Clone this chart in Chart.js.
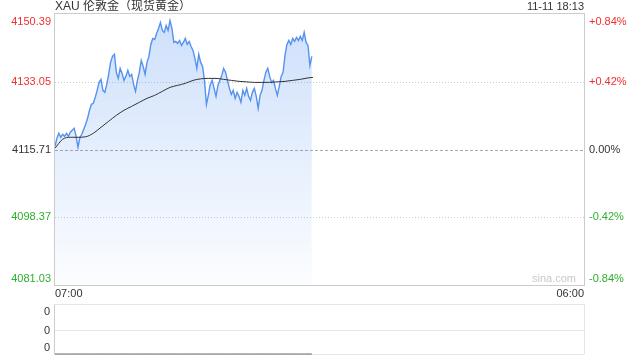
<!DOCTYPE html>
<html>
<head>
<meta charset="utf-8">
<script src="https://cdn.jsdelivr.net/npm/chart.js@4.4.0/dist/chart.umd.min.js"></script>
<style>
    html, body { margin: 0; padding: 0; background: #fff; }
    #wrap { position: relative; width: 640px; height: 360px; }
    #main { position: absolute; left: 0; top: 0; }
    #vol { position: absolute; left: 0; top: 300px; }
</style>
</head>
<body>
<div id="wrap">
    <canvas id="main" width="640" height="300" style="width:640px;height:300px"></canvas>
    <canvas id="vol" width="640" height="60" style="width:640px;height:60px"></canvas>
</div>
<script>
// 5-minute samples from 07:00 onward
const stepMinutes = 5;
const totalMinutes = 1380; // 07:00 -> 06:00 next day
const prices = [
    4116.54, 4118.58, 4119.86, 4118.84, 4119.61, 4119.10, 4119.86, 4119.10, 4120.12, 4120.63,
    4121.14, 4119.10, 4116.28, 4118.84, 4119.61, 4120.88, 4122.16, 4123.69, 4125.74, 4127.27,
    4127.53, 4129.06, 4130.85, 4132.89, 4133.66, 4130.85, 4130.34, 4132.38, 4134.94, 4138.00,
    4139.54, 4140.05, 4135.45, 4133.91, 4136.47, 4135.19, 4133.40, 4134.43, 4135.96, 4134.43,
    4134.94, 4132.38, 4130.59, 4133.40, 4135.45, 4138.51, 4136.98, 4134.94, 4138.00, 4139.54,
    4142.60, 4144.13, 4143.88, 4145.41, 4146.69, 4148.22, 4146.18, 4145.67, 4147.46, 4146.18,
    4148.73, 4146.69, 4143.11, 4143.37, 4142.86, 4143.62, 4142.35, 4143.11, 4144.13, 4142.60,
    4143.37, 4142.09, 4141.07, 4139.02, 4136.47, 4140.05, 4138.00, 4136.98, 4133.40, 4127.27,
    4129.57, 4132.38, 4133.40, 4131.36, 4129.32, 4132.13, 4133.40, 4134.68, 4136.47, 4135.45,
    4133.40, 4131.36, 4129.83, 4130.85, 4128.80, 4130.34, 4129.32, 4127.78, 4130.85, 4129.57,
    4131.36, 4129.32, 4128.29, 4130.34, 4131.36, 4129.32, 4126.25, 4129.57, 4130.85, 4133.40,
    4135.45, 4136.47, 4134.43, 4132.89, 4133.40, 4131.36, 4129.57, 4131.87, 4134.43, 4135.45,
    4139.79, 4142.60, 4143.62, 4142.60, 4144.13, 4143.37, 4144.39, 4143.62, 4144.65, 4143.62,
    4145.67, 4143.11, 4142.35, 4137.23, 4139.54
];
const avgTimes = [
    0, 20, 40, 60, 80, 100, 120, 140, 160, 180, 200, 220, 240, 260, 280, 300, 320,
    340, 360, 380, 400, 420, 440, 460, 480, 500, 520, 540, 560, 580, 600, 620, 640, 660, 673
];
const avgPrices = [
    4116.03, 4118.33, 4118.84, 4118.84, 4118.97, 4119.86, 4121.39, 4122.93, 4124.46, 4125.74,
    4126.76, 4127.78, 4128.80, 4129.57, 4130.59, 4131.61, 4132.13, 4132.64, 4133.40, 4133.79,
    4133.91, 4133.91, 4133.66, 4133.40, 4133.15, 4133.02, 4132.89, 4132.89, 4132.89, 4133.02,
    4133.15, 4133.40, 4133.66, 4134.04, 4134.17
];
const volumes = prices.map(() => 0); // volume panel shows only zeros
const prevClose = 4115.71;
const yTicks = [4150.39, 4133.05, 4115.71, 4098.37, 4081.03];
const pctLabels = ['+0.84%', '+0.42%', '0.00%', '-0.42%', '-0.84%'];
const timeLabels = ['07:00', '06:00'];
const volLabels = ['0', '0', '0'];
const title = 'XAU 伦敦金（现货黄金）';
const stamp = '11-11 18:13';

const FONT = '11px Arial, "Liberation Sans", "Noto Sans CJK SC", sans-serif';
const TITLE_FONT = '12px Arial, "Liberation Sans", "Noto Sans CJK SC", sans-serif';
const RED = '#f03030';
const GREEN = '#2fae2f';
const DARK = '#333';

function tickColor(v) {
    if (v > prevClose) return RED;
    if (v < prevClose) return GREEN;
    return DARK;
}

const framePlugin = {
    id: 'frame',
    beforeDatasetsDraw(chart) {
        const { ctx, chartArea: a, scales: { y } } = chart;
        ctx.save();
        ctx.lineWidth = 1;
        yTicks.forEach((v, i) => {
            if (i === 0 || i === yTicks.length - 1) return;
            const py = Math.round(y.getPixelForValue(v)) + 0.5;
            ctx.strokeStyle = v === prevClose ? '#aaa' : '#ccc';
            ctx.setLineDash(v === prevClose ? [3, 2] : [1, 2]);
            ctx.beginPath();
            ctx.moveTo(a.left, py);
            ctx.lineTo(a.right, py);
            ctx.stroke();
        });
        ctx.restore();
    },
    afterDraw(chart) {
        const { ctx, chartArea: a, scales: { y } } = chart;
        ctx.save();
        // box
        ctx.strokeStyle = '#ccc';
        ctx.lineWidth = 1;
        ctx.strokeRect(Math.round(a.left) - 0.5, Math.round(a.top) - 0.5,
            Math.round(a.right - a.left) + 1, Math.round(a.bottom - a.top) + 1);

        ctx.font = FONT;
        yTicks.forEach((v, i) => {
            let py = y.getPixelForValue(v);
            ctx.textBaseline = 'middle';
            if (i === 0) { ctx.textBaseline = 'top'; py += 2; }
            if (i === yTicks.length - 1) { ctx.textBaseline = 'bottom'; py -= 1; }
            ctx.fillStyle = tickColor(v);
            ctx.textAlign = 'right';
            ctx.fillText(v.toFixed(2), a.left - 4, py);
            ctx.textAlign = 'left';
            ctx.fillText(pctLabels[i], a.right + 5, py);
        });

        // time labels
        ctx.fillStyle = DARK;
        ctx.textBaseline = 'middle';
        ctx.textAlign = 'left';
        ctx.fillText(timeLabels[0], a.left, a.bottom + 9);
        ctx.textAlign = 'right';
        ctx.fillText(timeLabels[1], a.right, a.bottom + 9);

        // header
        ctx.textAlign = 'right';
        ctx.fillText(stamp, a.right, 7);
        ctx.font = TITLE_FONT;
        ctx.textAlign = 'left';
        ctx.fillText(title, a.left, 7);

        // watermark
        ctx.font = FONT;
        ctx.fillStyle = '#c8c8c8';
        ctx.textAlign = 'right';
        ctx.textBaseline = 'bottom';
        ctx.fillText('sina.com', a.right - 8, a.bottom - 1);
        ctx.restore();
    }
};

const mainCtx = document.getElementById('main').getContext('2d');
new Chart(mainCtx, {
    type: 'line',
    data: {
        datasets: [{
            label: 'avg',
            data: avgTimes.map((t, i) => ({ x: t, y: avgPrices[i] })),
            borderColor: '#333',
            borderWidth: 1,
            pointRadius: 0,
            fill: false,
            cubicInterpolationMode: 'monotone'
        }, {
            label: 'price',
            data: prices.map((p, i) => ({ x: i * stepMinutes, y: p })),
            borderColor: '#5592f0',
            borderWidth: 1.4,
            pointRadius: 0,
            tension: 0,
            fill: 'start',
            backgroundColor: function(context) {
                const { ctx, chartArea } = context.chart;
                if (!chartArea) return 'rgba(77,142,240,0.15)';
                const g = ctx.createLinearGradient(0, chartArea.top, 0, chartArea.bottom);
                g.addColorStop(0, 'rgba(77,142,240,0.28)');
                g.addColorStop(1, 'rgba(77,142,240,0.02)');
                return g;
            }
        }]
    },
    options: {
        responsive: false,
        animation: false,
        layout: { padding: { left: 55, right: 56, top: 14, bottom: 15 } },
        plugins: { legend: { display: false }, tooltip: { enabled: false } },
        scales: {
            x: { type: 'linear', min: 0, max: totalMinutes, display: false },
            y: { min: yTicks[yTicks.length - 1], max: yTicks[0], display: false }
        }
    },
    plugins: [framePlugin]
});

const volPlugin = {
    id: 'volFrame',
    beforeDatasetsDraw(chart) {
        const { ctx, chartArea: a } = chart;
        const l = Math.round(a.left) - 0.5, r = Math.round(a.right) + 0.5;
        const t = Math.round(a.top) - 0.5, b = Math.round(a.bottom) + 0.5;
        const m = Math.round((a.top + a.bottom) / 2) + 0.5;
        ctx.save();
        ctx.lineWidth = 1;
        ctx.strokeStyle = '#ccc';
        ctx.setLineDash([1, 1]);
        ctx.beginPath();
        ctx.moveTo(l, t); ctx.lineTo(r, t);
        ctx.moveTo(l, m); ctx.lineTo(r, m);
        ctx.moveTo(l, b); ctx.lineTo(r, b);
        ctx.moveTo(r, t); ctx.lineTo(r, b);
        ctx.stroke();
        ctx.setLineDash([]);
        ctx.beginPath();
        ctx.moveTo(l, t); ctx.lineTo(l, b);
        ctx.stroke();

        ctx.font = FONT;
        ctx.fillStyle = DARK;
        ctx.textAlign = 'right';
        ctx.textBaseline = 'top';
        ctx.fillText(volLabels[0], a.left - 5, t + 2);
        ctx.textBaseline = 'middle';
        ctx.fillText(volLabels[1], a.left - 5, m);
        ctx.textBaseline = 'bottom';
        ctx.fillText(volLabels[2], a.left - 5, b - 1);
        ctx.restore();
    }
};

const volCtx = document.getElementById('vol').getContext('2d');
new Chart(volCtx, {
    type: 'line',
    data: {
        datasets: [{
            label: 'volume',
            data: volumes.map((v, i) => ({ x: i * stepMinutes, y: v })),
            borderColor: '#666',
            borderWidth: 1,
            pointRadius: 0,
            fill: false,
            clip: 2
        }]
    },
    options: {
        responsive: false,
        animation: false,
        layout: { padding: { left: 55, right: 56, top: 5, bottom: 6 } },
        plugins: { legend: { display: false }, tooltip: { enabled: false } },
        scales: {
            x: { type: 'linear', min: 0, max: totalMinutes, display: false },
            y: { min: 0, max: 1, display: false }
        }
    },
    plugins: [volPlugin]
});
</script>
</body>
</html>
